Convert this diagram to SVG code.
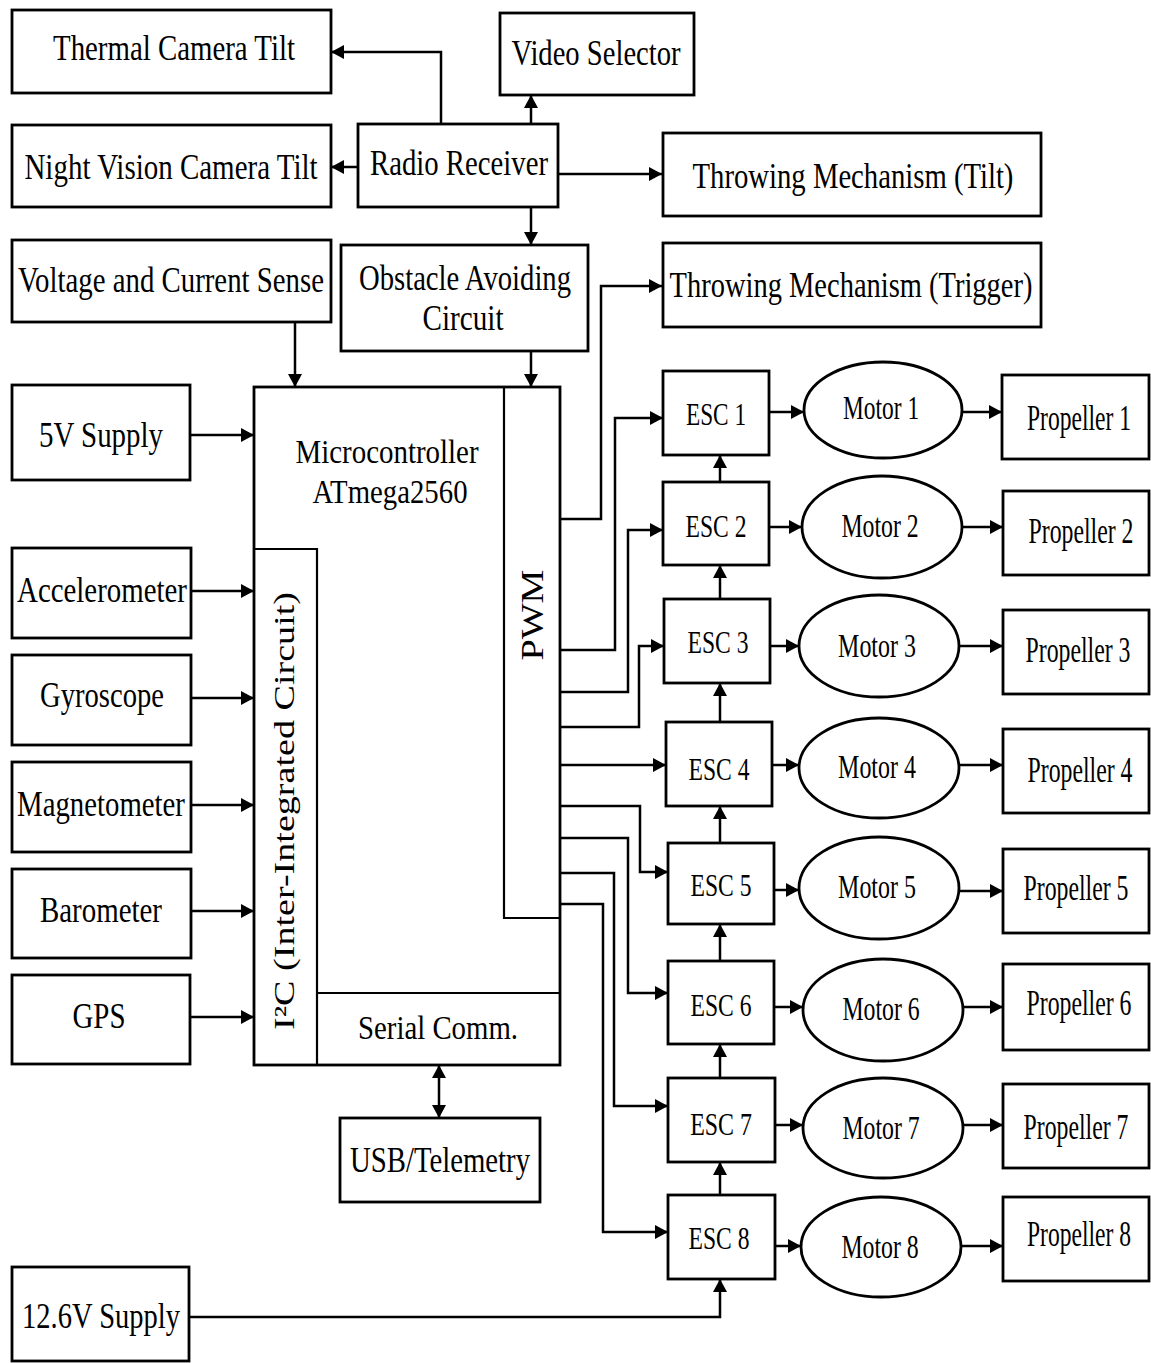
<svg xmlns="http://www.w3.org/2000/svg" width="1151" height="1363" viewBox="0 0 1151 1363">
  <style>
    .box { fill: #fff; stroke: #000; stroke-width: 2.8; }
    .sub { fill: none; stroke: #000; stroke-width: 2.2; }
    .lbl { font-family: "Liberation Serif", "Times New Roman", serif; font-size: 35px; fill: #000; text-anchor: middle; }
    .sm { font-size: 31px; }
    .md { font-size: 33px; }
    .wire { fill: none; stroke: #000; stroke-width: 2.5; marker-end: url(#ah); }
  </style>
  <defs>
    <marker id="ah" viewBox="0 0 13 14" refX="13" refY="7" markerWidth="13" markerHeight="14" markerUnits="userSpaceOnUse" orient="auto-start-reverse">
      <path d="M0,0 L13,7 L0,14 z" fill="#000"/>
    </marker>
  </defs>
  <rect width="1151" height="1363" fill="#fff"/>

  <!-- connectors -->
  <g id="connectors">
    <path class="wire" d="M441,124 V52 H331"/>
    <path class="wire" d="M531,124 V95"/>
    <path class="wire" d="M358,167 H331"/>
    <path class="wire" d="M558,174 H662"/>
    <path class="wire" d="M531,207 V245"/>
    <path class="wire" d="M295,322 V387"/>
    <path class="wire" d="M531,351 V387"/>
    <path class="wire" d="M190,435 H254"/>
    <path class="wire" d="M191,591 H254"/>
    <path class="wire" d="M191,698 H254"/>
    <path class="wire" d="M191,805 H254"/>
    <path class="wire" d="M191,911 H254"/>
    <path class="wire" d="M190,1017 H254"/>
    <path class="wire" style="marker-start:url(#ah)" d="M439,1065 V1118"/>
    <path class="wire" d="M189,1317 H720 V1279"/>
    <!-- PWM outputs -->
    <path class="wire" d="M560,519 H601 V286 H662"/>
    <path class="wire" d="M560,650 H615 V418 H663"/>
    <path class="wire" d="M560,692 H628 V530 H663"/>
    <path class="wire" d="M560,727 H639 V646 H664"/>
    <path class="wire" d="M560,765 H666"/>
    <path class="wire" d="M560,806 H640 V872 H668"/>
    <path class="wire" d="M560,838 H628 V993 H668"/>
    <path class="wire" d="M560,873 H614 V1106 H668"/>
    <path class="wire" d="M560,904 H603 V1232 H668"/>
    <!-- ESC chain -->
    <path class="wire" d="M720,482 V455"/>
    <path class="wire" d="M720,599 V565"/>
    <path class="wire" d="M720,722 V683"/>
    <path class="wire" d="M720,843 V806"/>
    <path class="wire" d="M720,961 V924"/>
    <path class="wire" d="M720,1078 V1044"/>
    <path class="wire" d="M720,1195 V1162"/>
    <!-- ESC to motor -->
    <path class="wire" d="M769,412 H804"/>
    <path class="wire" d="M769,527 H802"/>
    <path class="wire" d="M770,646 H799"/>
    <path class="wire" d="M772,765 H799"/>
    <path class="wire" d="M774,890 H799"/>
    <path class="wire" d="M774,1007 H803"/>
    <path class="wire" d="M775,1125 H803"/>
    <path class="wire" d="M775,1246 H801"/>
    <!-- motor to propeller -->
    <path class="wire" d="M962,412 H1002"/>
    <path class="wire" d="M962,527 H1003"/>
    <path class="wire" d="M959,646 H1003"/>
    <path class="wire" d="M959,765 H1003"/>
    <path class="wire" d="M959,891 H1003"/>
    <path class="wire" d="M963,1007 H1003"/>
    <path class="wire" d="M963,1125 H1003"/>
    <path class="wire" d="M961,1246 H1003"/>
  </g>

  <!-- top row -->
  <g id="thermal-tilt"><rect class="box" x="12" y="10" width="319" height="83"/><text class="lbl" transform="translate(174,60) scale(0.819,1)" textLength="295.5" lengthAdjust="spacingAndGlyphs">Thermal Camera Tilt</text></g>
  <g id="video-selector"><rect class="box" x="500" y="13" width="194" height="82"/><text class="lbl" transform="translate(596,65) scale(0.809,1)" textLength="209" lengthAdjust="spacingAndGlyphs">Video Selector</text></g>
  <g id="night-tilt"><rect class="box" x="12" y="125" width="319" height="82"/><text class="lbl" transform="translate(171,179) scale(0.817,1)" textLength="358.8" lengthAdjust="spacingAndGlyphs">Night Vision Camera Tilt</text></g>
  <g id="radio"><rect class="box" x="358" y="124" width="200" height="83"/><text class="lbl" transform="translate(459,175) scale(0.821,1)" textLength="216.8" lengthAdjust="spacingAndGlyphs">Radio Receiver</text></g>
  <g id="throw-tilt"><rect class="box" x="663" y="133" width="378" height="83"/><text class="lbl" transform="translate(853,188) scale(0.817,1)" textLength="392.7" lengthAdjust="spacingAndGlyphs">Throwing Mechanism (Tilt)</text></g>
  <g id="vc-sense"><rect class="box" x="12" y="240" width="319" height="82"/><text class="lbl" transform="translate(171,292) scale(0.814,1)" textLength="376" lengthAdjust="spacingAndGlyphs">Voltage and Current Sense</text></g>
  <g id="obstacle"><rect class="box" x="341" y="245" width="247" height="106"/><text class="lbl" transform="translate(465,290) scale(0.805,1)" textLength="263.4" lengthAdjust="spacingAndGlyphs">Obstacle Avoiding</text><text class="lbl" transform="translate(463,330) scale(0.833,1)" textLength="97.2" lengthAdjust="spacingAndGlyphs">Circuit</text></g>
  <g id="throw-trigger"><rect class="box" x="663" y="243" width="378" height="84"/><text class="lbl" transform="translate(851,297) scale(0.812,1)" textLength="447" lengthAdjust="spacingAndGlyphs">Throwing Mechanism (Trigger)</text></g>

  <!-- inputs -->
  <g id="supply-5v"><rect class="box" x="12" y="385" width="178" height="95"/><text class="lbl" transform="translate(101,447) scale(0.823,1)" textLength="150.7" lengthAdjust="spacingAndGlyphs">5V Supply</text></g>
  <g id="accelerometer"><rect class="box" x="12" y="548" width="179" height="90"/><text class="lbl" transform="translate(102,602) scale(0.825,1)" textLength="206" lengthAdjust="spacingAndGlyphs">Accelerometer</text></g>
  <g id="gyroscope"><rect class="box" x="12" y="655" width="179" height="90"/><text class="lbl" transform="translate(102,707) scale(0.818,1)" textLength="151.6" lengthAdjust="spacingAndGlyphs">Gyroscope</text></g>
  <g id="magnetometer"><rect class="box" x="12" y="762" width="179" height="90"/><text class="lbl" transform="translate(101,816) scale(0.823,1)" textLength="204" lengthAdjust="spacingAndGlyphs">Magnetometer</text></g>
  <g id="barometer"><rect class="box" x="12" y="869" width="179" height="89"/><text class="lbl" transform="translate(101,922) scale(0.826,1)" textLength="147.7" lengthAdjust="spacingAndGlyphs">Barometer</text></g>
  <g id="gps"><rect class="box" x="12" y="975" width="178" height="89"/><text class="lbl" transform="translate(99,1028) scale(0.826,1)" textLength="64.2" lengthAdjust="spacingAndGlyphs">GPS</text></g>
  <g id="supply-12v"><rect class="box" x="12" y="1267" width="177" height="94"/><text class="lbl" transform="translate(101,1328) scale(0.812,1)" textLength="194.5" lengthAdjust="spacingAndGlyphs">12.6V Supply</text></g>

  <!-- microcontroller with its PWM, I2C and serial sections -->
  <g id="mcu">
    <rect class="box" x="254" y="387" width="306" height="678"/>
    <text class="lbl md" transform="translate(387,463) scale(0.876,1)" textLength="209" lengthAdjust="spacingAndGlyphs">Microcontroller</text>
    <text class="lbl md" transform="translate(390,503) scale(0.854,1)" textLength="181.5" lengthAdjust="spacingAndGlyphs">ATmega2560</text>
    <path class="sub" d="M504,387 V918 H560"/>
    <text class="lbl sm" transform="translate(543,615) rotate(-90)" textLength="91" lengthAdjust="spacingAndGlyphs">PWM</text>
    <path class="sub" d="M254,549 H317 V1065"/>
    <text class="lbl" style="font-size:29px" transform="translate(294,811) rotate(-90)" textLength="438" lengthAdjust="spacingAndGlyphs">I²C (Inter-Integrated Circuit)</text>
    <path class="sub" d="M317,993 H560"/>
    <text class="lbl md" transform="translate(438,1039) scale(0.873,1)" textLength="183.3" lengthAdjust="spacingAndGlyphs">Serial Comm.</text>
  </g>
  <g id="usb-telemetry"><rect class="box" x="340" y="1118" width="200" height="84"/><text class="lbl" transform="translate(440,1172) scale(0.812,1)" textLength="221.7" lengthAdjust="spacingAndGlyphs">USB/Telemetry</text></g>

  <!-- ESCs -->
  <g id="esc1"><rect class="box" x="663" y="371" width="106" height="84"/><text class="lbl sm" transform="translate(716,425) scale(0.75,1)" textLength="80.1" lengthAdjust="spacingAndGlyphs">ESC 1</text></g>
  <g id="esc2"><rect class="box" x="663" y="482" width="106" height="83"/><text class="lbl sm" transform="translate(716,537) scale(0.76,1)" textLength="80.1" lengthAdjust="spacingAndGlyphs">ESC 2</text></g>
  <g id="esc3"><rect class="box" x="664" y="599" width="106" height="84"/><text class="lbl sm" transform="translate(718,653) scale(0.76,1)" textLength="80.1" lengthAdjust="spacingAndGlyphs">ESC 3</text></g>
  <g id="esc4"><rect class="box" x="666" y="722" width="106" height="84"/><text class="lbl sm" transform="translate(719,780) scale(0.76,1)" textLength="80.1" lengthAdjust="spacingAndGlyphs">ESC 4</text></g>
  <g id="esc5"><rect class="box" x="668" y="843" width="106" height="81"/><text class="lbl sm" transform="translate(721,896) scale(0.76,1)" textLength="80.1" lengthAdjust="spacingAndGlyphs">ESC 5</text></g>
  <g id="esc6"><rect class="box" x="668" y="961" width="106" height="83"/><text class="lbl sm" transform="translate(721,1016) scale(0.76,1)" textLength="80.1" lengthAdjust="spacingAndGlyphs">ESC 6</text></g>
  <g id="esc7"><rect class="box" x="668" y="1078" width="107" height="84"/><text class="lbl sm" transform="translate(721,1135) scale(0.77,1)" textLength="80.1" lengthAdjust="spacingAndGlyphs">ESC 7</text></g>
  <g id="esc8"><rect class="box" x="668" y="1195" width="107" height="84"/><text class="lbl sm" transform="translate(719,1249) scale(0.76,1)" textLength="80.1" lengthAdjust="spacingAndGlyphs">ESC 8</text></g>

  <!-- motors -->
  <g id="motor1"><ellipse class="box" cx="883" cy="410" rx="79" ry="48"/><text class="lbl md" transform="translate(881,419) scale(0.71,1)" textLength="107.3" lengthAdjust="spacingAndGlyphs">Motor 1</text></g>
  <g id="motor2"><ellipse class="box" cx="882" cy="527" rx="80" ry="51"/><text class="lbl md" transform="translate(880,537) scale(0.72,1)" textLength="107.3" lengthAdjust="spacingAndGlyphs">Motor 2</text></g>
  <g id="motor3"><ellipse class="box" cx="879" cy="646" rx="80" ry="51"/><text class="lbl md" transform="translate(877,657) scale(0.725,1)" textLength="107.3" lengthAdjust="spacingAndGlyphs">Motor 3</text></g>
  <g id="motor4"><ellipse class="box" cx="879" cy="768" rx="80" ry="50"/><text class="lbl md" transform="translate(877,778) scale(0.725,1)" textLength="107.3" lengthAdjust="spacingAndGlyphs">Motor 4</text></g>
  <g id="motor5"><ellipse class="box" cx="879" cy="888" rx="80" ry="51"/><text class="lbl md" transform="translate(877,898) scale(0.725,1)" textLength="107.3" lengthAdjust="spacingAndGlyphs">Motor 5</text></g>
  <g id="motor6"><ellipse class="box" cx="883" cy="1010" rx="80" ry="51"/><text class="lbl md" transform="translate(881,1020) scale(0.72,1)" textLength="107.3" lengthAdjust="spacingAndGlyphs">Motor 6</text></g>
  <g id="motor7"><ellipse class="box" cx="883" cy="1128" rx="80" ry="50"/><text class="lbl md" transform="translate(881,1139) scale(0.72,1)" textLength="107.3" lengthAdjust="spacingAndGlyphs">Motor 7</text></g>
  <g id="motor8"><ellipse class="box" cx="881" cy="1247" rx="80" ry="50"/><text class="lbl md" transform="translate(880,1258) scale(0.72,1)" textLength="107.3" lengthAdjust="spacingAndGlyphs">Motor 8</text></g>

  <!-- propellers -->
  <g id="prop1"><rect class="box" x="1002" y="375" width="147" height="84"/><text class="lbl" transform="translate(1079,430) scale(0.673,1)" textLength="154.6" lengthAdjust="spacingAndGlyphs">Propeller 1</text></g>
  <g id="prop2"><rect class="box" x="1003" y="491" width="146" height="84"/><text class="lbl" transform="translate(1081,543) scale(0.679,1)" textLength="154.6" lengthAdjust="spacingAndGlyphs">Propeller 2</text></g>
  <g id="prop3"><rect class="box" x="1003" y="610" width="146" height="84"/><text class="lbl" transform="translate(1078,662) scale(0.679,1)" textLength="154.6" lengthAdjust="spacingAndGlyphs">Propeller 3</text></g>
  <g id="prop4"><rect class="box" x="1003" y="729" width="146" height="84"/><text class="lbl" transform="translate(1080,782) scale(0.679,1)" textLength="154.6" lengthAdjust="spacingAndGlyphs">Propeller 4</text></g>
  <g id="prop5"><rect class="box" x="1003" y="849" width="146" height="84"/><text class="lbl" transform="translate(1076,900) scale(0.679,1)" textLength="154.6" lengthAdjust="spacingAndGlyphs">Propeller 5</text></g>
  <g id="prop6"><rect class="box" x="1003" y="964" width="146" height="86"/><text class="lbl" transform="translate(1079,1015) scale(0.679,1)" textLength="154.6" lengthAdjust="spacingAndGlyphs">Propeller 6</text></g>
  <g id="prop7"><rect class="box" x="1003" y="1084" width="146" height="84"/><text class="lbl" transform="translate(1076,1139) scale(0.679,1)" textLength="154.6" lengthAdjust="spacingAndGlyphs">Propeller 7</text></g>
  <g id="prop8"><rect class="box" x="1003" y="1197" width="146" height="84"/><text class="lbl" transform="translate(1079,1246) scale(0.673,1)" textLength="154.6" lengthAdjust="spacingAndGlyphs">Propeller 8</text></g>
</svg>
